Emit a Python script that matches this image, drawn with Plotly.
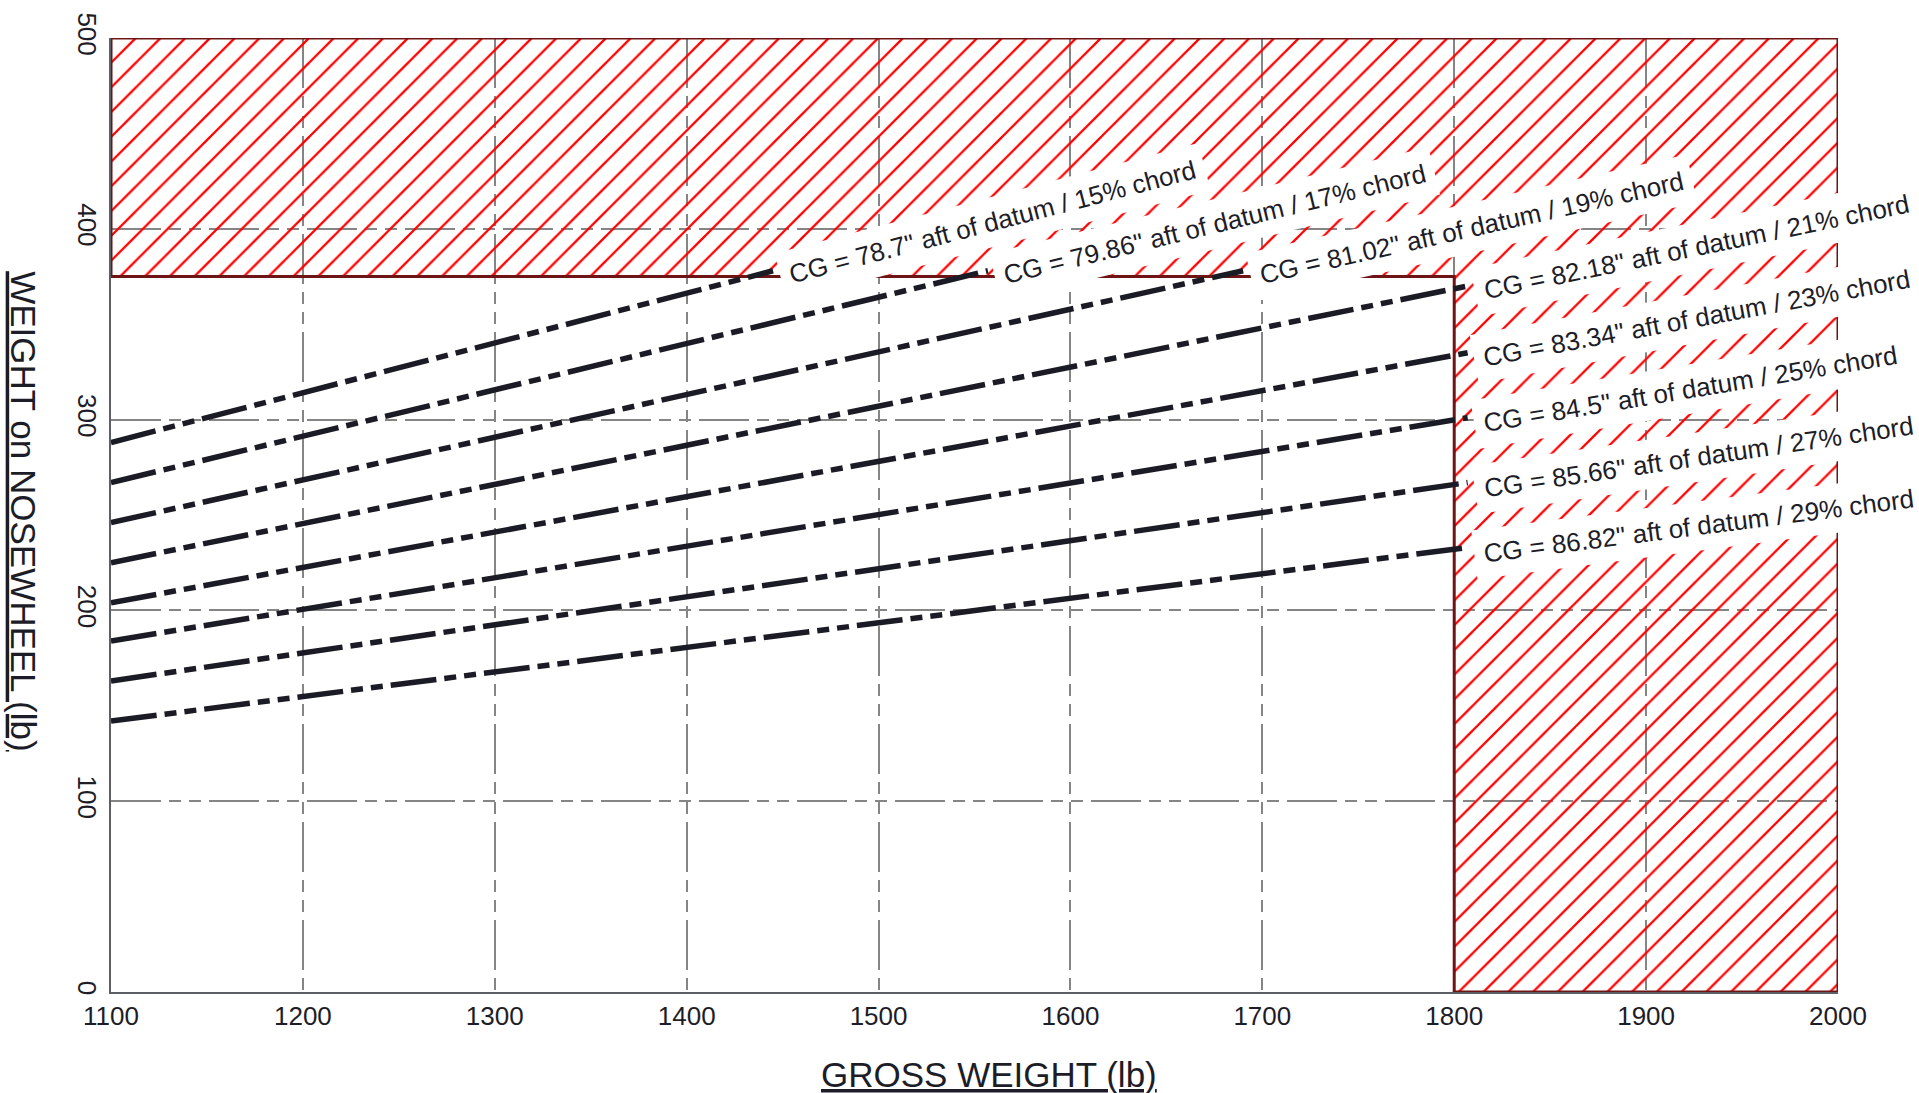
import math
import plotly.graph_objects as go

# ---------------- data ----------------
cg_in = [78.7, 79.86, 81.02, 82.18, 83.34, 84.5, 85.66, 86.82]
chord_pct = [15, 17, 19, 21, 23, 25, 27, 29]
gw_start = [1100, 1100, 1100, 1100, 1100, 1100, 1100, 1100]
gw_end = [1445, 1557, 1690, 1807, 1807, 1807, 1807, 1807]
nw_start = [288, 267, 246, 225, 204, 184, 163, 142]
nw_end = [378, 378, 378, 370, 335, 301, 267, 233]

# forbidden (hatched) zone outline
limit_gw = [1100, 1100, 2000, 2000, 1800, 1800, 1100]
limit_nw = [375, 500, 500, 0, 0, 375, 375]

x_ticks = [1100, 1200, 1300, 1400, 1500, 1600, 1700, 1800, 1900, 2000]
y_ticks = [0, 100, 200, 300, 400, 500]

labels = [f'CG = {c}" aft of datum / {p}% chord' for c, p in zip(cg_in, chord_pct)]

# ---------------- layout constants ----------------
W, H = 1919, 1093
ML, MR, MT, MB = 111, 81, 32, 101
PW, PH = W - ML - MR, H - MT - MB
XR, YR = (1100, 2000), (0, 500)
FONT = "Liberation Sans, Arial, Helvetica, sans-serif"
INK = "#1d1d28"
LINE_INK = "#1b1b25"
LABEL_FS = 26

# Arial/Liberation Sans advance widths (1/1000 em)
AW = {' ': 278, '=': 584, '.': 278, '"': 355, '/': 278, '%': 889,
      'C': 722, 'G': 778, 'a': 556, 'f': 278, 't': 278, 'o': 556, 'd': 556,
      'u': 556, 'm': 833, 'c': 500, 'h': 556, 'r': 333}


def text_width(s, fs):
    return sum(AW.get(ch, 556) for ch in s) * fs / 1000.0


fig = go.Figure()

# hatched forbidden zone
fig.add_trace(go.Scatter(
    x=limit_gw, y=limit_nw, mode="lines", fill="toself",
    fillcolor="rgba(255,255,255,0)",
    fillpattern=dict(shape="/", fgcolor="#ff0000", fgopacity=1,
                     bgcolor="rgba(255,255,255,0)",
                     size=17.5, solidity=0.13),
    line=dict(color="#6e1414", width=3),
    hoverinfo="skip", showlegend=False,
))

# CG lines
for i in range(len(cg_in)):
    fig.add_trace(go.Scatter(
        x=[gw_start[i], gw_end[i]], y=[nw_start[i], nw_end[i]],
        mode="lines",
        line=dict(color=LINE_INK, width=5.5, dash="46px,8px,12px,8px,12px,8px"),
        showlegend=False, hoverinfo="skip",
    ))

# labels along each line
px_per_x = PW / (XR[1] - XR[0])
px_per_y = PH / (YR[1] - YR[0])
annotations = []
for i, txt in enumerate(labels):
    dxp = (gw_end[i] - gw_start[i]) * px_per_x
    dyp = (nw_end[i] - nw_start[i]) * px_per_y
    th = math.atan2(dyp, dxp)
    L = text_width(txt, LABEL_FS)
    along = 15 + L / 2
    d = 8
    xs = along * math.cos(th) + d * math.sin(th)
    ys = along * math.sin(th) - d * math.cos(th)
    annotations.append(dict(
        x=gw_end[i], y=nw_end[i], xref="x", yref="y", text=txt,
        showarrow=False, xanchor="center", yanchor="middle",
        xshift=xs, yshift=ys, textangle=-math.degrees(th),
        bgcolor="white", borderpad=9,
        font=dict(family=FONT, size=LABEL_FS, color=INK),
    ))

# axis titles (underlined)
annotations.append(dict(
    x=(24 - ML) / PW, y=0.504, xref="paper", yref="paper",
    text="<u>WEIGHT on NOSEWHEEL (lb)</u>", showarrow=False,
    textangle=90, xanchor="center", yanchor="middle",
    font=dict(family=FONT, size=35, color=INK),
))
annotations.append(dict(
    x=(989 - ML) / PW, y=-0.086, xref="paper", yref="paper",
    text="<u>GROSS WEIGHT (lb)</u>", showarrow=False,
    xanchor="center", yanchor="middle",
    font=dict(family=FONT, size=35, color=INK),
))

grid_dash = "50px,8px,12px,8px,12px,8px"
fig.update_layout(
    width=W, height=H,
    margin=dict(l=ML, r=MR, t=MT, b=MB, pad=0),
    paper_bgcolor="white", plot_bgcolor="white",
    font=dict(family=FONT, color=INK),
    xaxis=dict(range=list(XR), tickvals=x_ticks, ticktext=[str(v) for v in x_ticks],
               showgrid=True, gridcolor="#858585", gridwidth=1.5, griddash=grid_dash,
               showline=True, linecolor="#5e5e66", linewidth=2,
               ticks="", zeroline=False, tickfont=dict(size=26, color=INK)),
    yaxis=dict(range=list(YR), tickvals=y_ticks, ticktext=[str(v) for v in y_ticks],
               showgrid=True, gridcolor="#858585", gridwidth=1.5, griddash=grid_dash,
               showline=True, linecolor="#5e5e66", linewidth=2,
               ticks="", zeroline=False, tickangle=90,
               tickfont=dict(size=26, color=INK)),
    annotations=annotations,
)

fig.write_html(
    "out.html",
    config={"displayModeBar": False},
    post_script="document.body.style.margin='0';document.body.style.overflow='hidden';",
)
